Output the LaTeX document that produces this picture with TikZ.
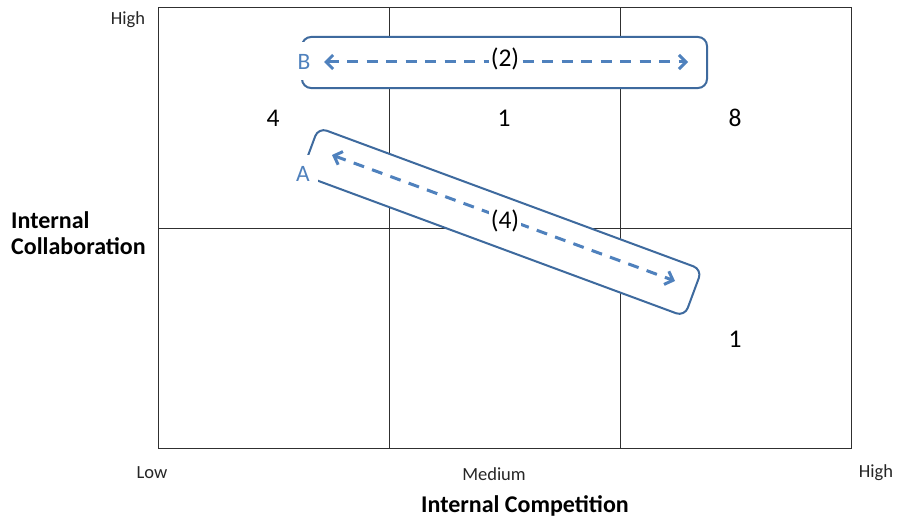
\documentclass[tikz,border=0pt]{standalone}
\usepackage{fontspec}
\setmainfont{Carlito}
\usetikzlibrary{arrows.meta}
\definecolor{arrowblue}{HTML}{4F81BD}
\definecolor{boxblue}{HTML}{3E6A9E}
\definecolor{gridgray}{HTML}{303030}
\definecolor{textgray}{HTML}{262626}
\begin{document}
\begin{tikzpicture}[x=1pt,y=-1pt,
  gridline/.style={draw=gridgray, line width=1pt},
  roundbox/.style={draw=boxblue, fill=white, line width=2pt, rounded corners=9pt,
    minimum width=405pt, minimum height=51pt, inner sep=0pt},
  darrow/.style={draw=arrowblue, line width=3pt, dash pattern=on 11pt off 8.5pt,
    >={Straight Barb[length=7pt,width=14pt]}, <->},
  ticklabel/.style={text=textgray, font=\fontsize{18.5}{21}\selectfont, inner sep=0pt},
  axislabel/.style={text=black, font=\fontsize{24}{25.5}\selectfont\bfseries, inner sep=0pt},
  numlabel/.style={text=black, font=\fontsize{25.5}{29}\selectfont, inner sep=0pt},
  endlabel/.style={text=arrowblue, fill=white, font=\fontsize{23.5}{27}\selectfont, inner sep=0pt},
  countlabel/.style={text=black, fill=white, font=\fontsize{25.5}{29}\selectfont, inner sep=1.5pt}
]
\useasboundingbox (0,0) rectangle (897,519);
\fill[white] (0,0) rectangle (897,519);

% grid
\coordinate (tl) at (158,8);
\coordinate (br) at (851,448);
\coordinate (v1t) at (389,8);
\coordinate (v1b) at (389,448);
\coordinate (v2t) at (620,8);
\coordinate (v2b) at (620,448);
\coordinate (hl) at (158,228);
\coordinate (hr) at (851,228);
\draw[gridline] (tl) rectangle (br);
\draw[gridline] (v1t) -- (v1b);
\draw[gridline] (v2t) -- (v2b);
\draw[gridline] (hl) -- (hr);

% boxes
\node[roundbox] (boxB) at (504.5,62.5) {};
\node[roundbox, minimum width=409pt, minimum height=50pt, rotate=-20.3] (boxA) at (501.5,222) {};

% end labels
\node[endlabel, minimum width=18pt, minimum height=38pt] (labB) at (304,61.5) {B};
\node[endlabel, minimum width=30pt, minimum height=38pt] (labA) at (303,174) {A};

% arrows
\coordinate (b1) at (324,62);
\coordinate (b2) at (688,62);
\draw[darrow] (b1) -- (b2);
\coordinate (a1) at (332,155);
\coordinate (a2) at (675,281);
\draw[darrow] (a1) -- (a2);
\node[countlabel] (c2) at (505,59) {(2)};
\node[countlabel] (c4) at (505,221) {(4)};

% cell numbers
\node[numlabel] (n1) at (273,118) {4};
\node[numlabel] (n2) at (504,118) {1};
\node[numlabel] (n3) at (735,118) {8};
\node[numlabel] (n4) at (735,339) {1};

% tick labels
\node[ticklabel] (yhigh) at (128,20) {High};
\node[ticklabel] (xlow) at (152,473) {Low};
\node[ticklabel] (xmed) at (494,474) {Medium};
\node[ticklabel] (xhigh) at (876,473) {High};

% axis labels
\node[axislabel, anchor=west, align=left] (ylab) at (11,233) {Internal\\Collaboration};
\node[axislabel] (xlab) at (525,506) {Internal Competition};
\end{tikzpicture}
\end{document}
